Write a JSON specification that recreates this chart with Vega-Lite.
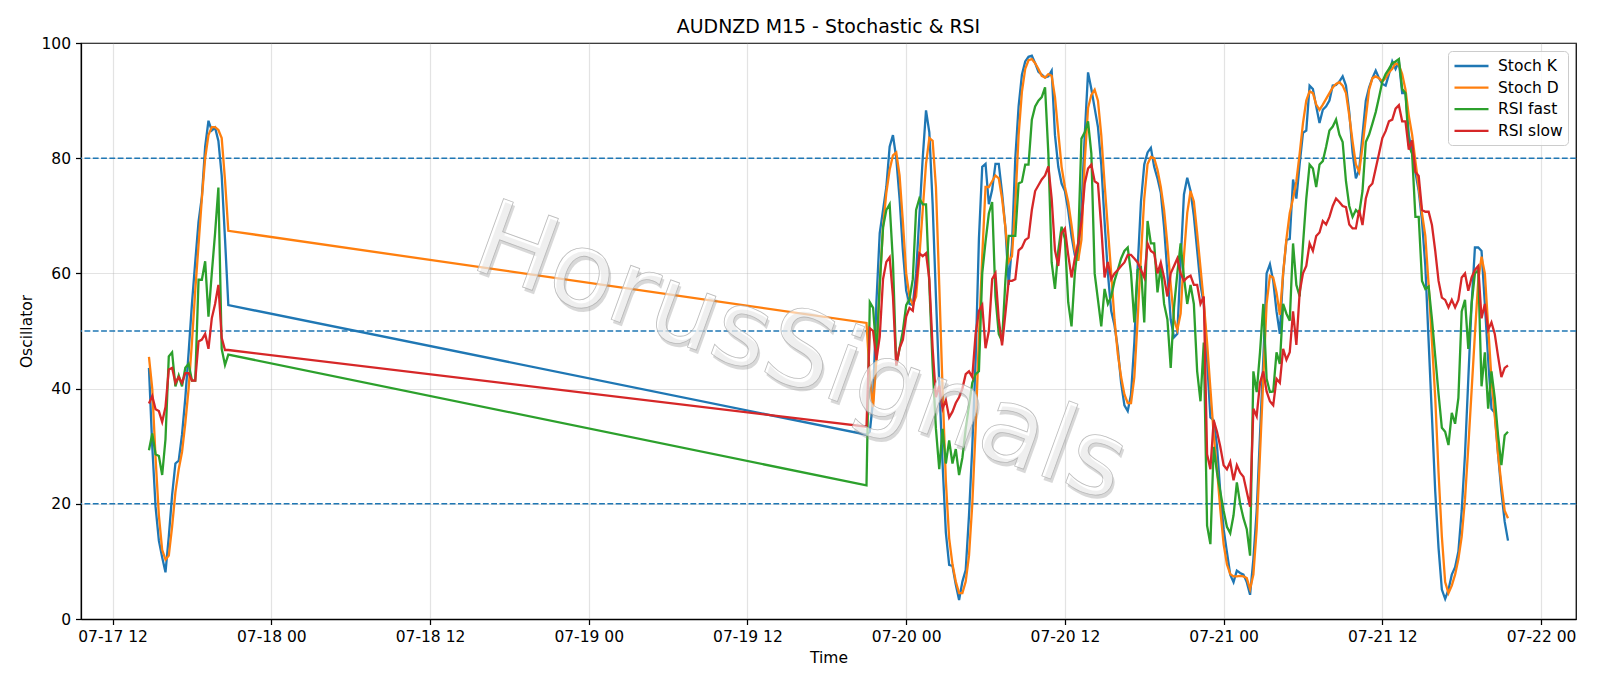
{
  "$schema": "https://vega.github.io/schema/vega-lite/v6.json",
  "width": 1495,
  "height": 576,
  "autosize": "none",
  "padding": {"left": 81, "top": 43, "right": 24, "bottom": 67},
  "background": "white",
  "title": {"text": "AUDNZD M15 - Stochastic & RSI", "font": "DejaVu Sans", "fontSize": 18.9, "fontWeight": "normal", "color": "black", "anchor": "middle", "baseline": "alphabetic", "offset": -16},
  "config": {
    "view": {"stroke": "black", "strokeWidth": 1.25},
    "axis": {"labelFont": "DejaVu Sans", "labelFontSize": 15.5, "labelColor": "black", "titleFont": "DejaVu Sans", "titleFontSize": 15.5, "titleFontWeight": "normal", "titleColor": "black", "domainColor": "black", "domainWidth": 1.25, "tickColor": "black", "tickWidth": 1.25, "tickSize": 5.5, "labelPadding": 5, "gridColor": "#b0b0b0", "gridOpacity": 0.35, "gridWidth": 1.2}
  },
  "layer": [
    {
      "data": {"values": [{"value": 20}, {"value": 50}, {"value": 80}]},
      "mark": {"type": "rule", "color": "#1f77b4", "strokeDash": [5.8, 2.5], "strokeWidth": 1.55},
      "encoding": {"y": {"field": "value", "type": "quantitative", "title": "Oscillator", "scale": {"domain": [0, 100], "nice": false}}}
    },
    {
      "data": {"values": [
        {"t": "2020-07-17T14:45", "Stoch K": 43.6, "Stoch D": 45.5, "RSI fast": 29.3, "RSI slow": 37.4},
        {"t": "2020-07-17T15:00", "Stoch K": 30, "Stoch D": 40, "RSI fast": 32.2, "RSI slow": 38.7},
        {"t": "2020-07-17T15:15", "Stoch K": 19.5, "Stoch D": 28, "RSI fast": 28.6, "RSI slow": 36.4},
        {"t": "2020-07-17T15:30", "Stoch K": 13.6, "Stoch D": 18, "RSI fast": 28.3, "RSI slow": 36.1},
        {"t": "2020-07-17T15:45", "Stoch K": 10.7, "Stoch D": 12, "RSI fast": 25, "RSI slow": 34.2},
        {"t": "2020-07-17T16:00", "Stoch K": 8.1, "Stoch D": 10.3, "RSI fast": 31.2, "RSI slow": 36.8},
        {"t": "2020-07-17T16:15", "Stoch K": 14.3, "Stoch D": 11, "RSI fast": 45.6, "RSI slow": 43.3},
        {"t": "2020-07-17T16:30", "Stoch K": 21.5, "Stoch D": 16, "RSI fast": 46.3, "RSI slow": 43.6},
        {"t": "2020-07-17T16:45", "Stoch K": 27, "Stoch D": 22, "RSI fast": 40.4, "RSI slow": 41},
        {"t": "2020-07-17T17:00", "Stoch K": 27.5, "Stoch D": 26, "RSI fast": 42.3, "RSI slow": 42},
        {"t": "2020-07-17T17:15", "Stoch K": 32, "Stoch D": 29, "RSI fast": 40.4, "RSI slow": 41},
        {"t": "2020-07-17T17:30", "Stoch K": 38.4, "Stoch D": 34, "RSI fast": 43.6, "RSI slow": 42.7},
        {"t": "2020-07-17T17:45", "Stoch K": 46.3, "Stoch D": 40, "RSI fast": 44.3, "RSI slow": 42.7},
        {"t": "2020-07-17T18:00", "Stoch K": 54.7, "Stoch D": 48, "RSI fast": 41.4, "RSI slow": 41.4},
        {"t": "2020-07-17T18:15", "Stoch K": 62, "Stoch D": 57, "RSI fast": 41.4, "RSI slow": 41.4},
        {"t": "2020-07-17T18:30", "Stoch K": 69, "Stoch D": 65, "RSI fast": 58.9, "RSI slow": 48.2},
        {"t": "2020-07-17T18:45", "Stoch K": 73.3, "Stoch D": 73, "RSI fast": 58.9, "RSI slow": 48.5},
        {"t": "2020-07-17T19:00", "Stoch K": 82, "Stoch D": 80, "RSI fast": 62.1, "RSI slow": 49.5},
        {"t": "2020-07-17T19:15", "Stoch K": 86.5, "Stoch D": 84, "RSI fast": 52.5, "RSI slow": 46.9},
        {"t": "2020-07-17T19:30", "Stoch K": 84.8, "Stoch D": 85.4, "RSI fast": 60, "RSI slow": 52.2},
        {"t": "2020-07-17T19:45", "Stoch K": 85.3, "Stoch D": 85.4, "RSI fast": 67, "RSI slow": 54.7},
        {"t": "2020-07-17T20:00", "Stoch K": 83, "Stoch D": 84.9, "RSI fast": 74.9, "RSI slow": 58},
        {"t": "2020-07-17T20:15", "Stoch K": 77, "Stoch D": 83.5, "RSI fast": 46.9, "RSI slow": 48.8},
        {"t": "2020-07-17T20:30", "Stoch K": 66, "Stoch D": 76.2, "RSI fast": 44.1, "RSI slow": 46.7},
        {"t": "2020-07-17T20:45", "Stoch K": 54.5, "Stoch D": 67.4, "RSI fast": 45.9, "RSI slow": 46.7},
        {"t": "2020-07-19T21:00", "Stoch K": 32, "Stoch D": 51.4, "RSI fast": 23.2, "RSI slow": 33.4},
        {"t": "2020-07-19T21:15", "Stoch K": 32.5, "Stoch D": 42, "RSI fast": 55, "RSI slow": 50.5},
        {"t": "2020-07-19T21:30", "Stoch K": 38, "Stoch D": 36.8, "RSI fast": 54, "RSI slow": 50},
        {"t": "2020-07-19T21:45", "Stoch K": 55, "Stoch D": 45, "RSI fast": 46, "RSI slow": 45},
        {"t": "2020-07-19T22:00", "Stoch K": 67, "Stoch D": 58, "RSI fast": 58, "RSI slow": 49},
        {"t": "2020-07-19T22:15", "Stoch K": 71, "Stoch D": 68, "RSI fast": 68, "RSI slow": 59},
        {"t": "2020-07-19T22:30", "Stoch K": 75, "Stoch D": 74, "RSI fast": 71, "RSI slow": 62},
        {"t": "2020-07-19T22:45", "Stoch K": 82, "Stoch D": 78, "RSI fast": 72, "RSI slow": 62.8},
        {"t": "2020-07-19T23:00", "Stoch K": 84, "Stoch D": 80.5, "RSI fast": 62, "RSI slow": 56},
        {"t": "2020-07-19T23:15", "Stoch K": 80, "Stoch D": 81, "RSI fast": 44, "RSI slow": 44},
        {"t": "2020-07-19T23:30", "Stoch K": 73, "Stoch D": 77, "RSI fast": 47, "RSI slow": 47},
        {"t": "2020-07-19T23:45", "Stoch K": 64, "Stoch D": 69, "RSI fast": 50, "RSI slow": 48.5},
        {"t": "2020-07-20T00:00", "Stoch K": 57, "Stoch D": 60, "RSI fast": 54.5, "RSI slow": 52.5},
        {"t": "2020-07-20T00:15", "Stoch K": 54.7, "Stoch D": 56, "RSI fast": 55.5, "RSI slow": 54},
        {"t": "2020-07-20T00:30", "Stoch K": 54.5, "Stoch D": 54.5, "RSI fast": 59, "RSI slow": 53.5},
        {"t": "2020-07-20T00:45", "Stoch K": 60, "Stoch D": 56, "RSI fast": 71, "RSI slow": 58},
        {"t": "2020-07-20T01:00", "Stoch K": 70, "Stoch D": 63, "RSI fast": 73, "RSI slow": 63.5},
        {"t": "2020-07-20T01:15", "Stoch K": 80, "Stoch D": 71, "RSI fast": 72, "RSI slow": 63},
        {"t": "2020-07-20T01:30", "Stoch K": 88.3, "Stoch D": 79, "RSI fast": 72, "RSI slow": 63.5},
        {"t": "2020-07-20T01:45", "Stoch K": 84.5, "Stoch D": 83.5, "RSI fast": 58, "RSI slow": 59},
        {"t": "2020-07-20T02:00", "Stoch K": 72, "Stoch D": 83, "RSI fast": 44, "RSI slow": 47},
        {"t": "2020-07-20T02:15", "Stoch K": 56, "Stoch D": 75, "RSI fast": 33, "RSI slow": 38.5},
        {"t": "2020-07-20T02:30", "Stoch K": 41, "Stoch D": 58, "RSI fast": 26, "RSI slow": 40.5},
        {"t": "2020-07-20T02:45", "Stoch K": 27, "Stoch D": 40, "RSI fast": 33, "RSI slow": 36.5},
        {"t": "2020-07-20T03:00", "Stoch K": 15, "Stoch D": 24, "RSI fast": 27, "RSI slow": 38},
        {"t": "2020-07-20T03:15", "Stoch K": 9.4, "Stoch D": 14, "RSI fast": 31, "RSI slow": 35},
        {"t": "2020-07-20T03:30", "Stoch K": 9.2, "Stoch D": 9.5, "RSI fast": 27, "RSI slow": 36},
        {"t": "2020-07-20T03:45", "Stoch K": 6, "Stoch D": 6.5, "RSI fast": 29.5, "RSI slow": 37.5},
        {"t": "2020-07-20T04:00", "Stoch K": 3.3, "Stoch D": 4.5, "RSI fast": 25, "RSI slow": 38.5},
        {"t": "2020-07-20T04:15", "Stoch K": 6.5, "Stoch D": 4.5, "RSI fast": 28, "RSI slow": 40},
        {"t": "2020-07-20T04:30", "Stoch K": 8.5, "Stoch D": 6.5, "RSI fast": 33, "RSI slow": 42.5},
        {"t": "2020-07-20T04:45", "Stoch K": 18, "Stoch D": 11, "RSI fast": 37, "RSI slow": 43},
        {"t": "2020-07-20T05:00", "Stoch K": 30, "Stoch D": 20, "RSI fast": 41, "RSI slow": 42},
        {"t": "2020-07-20T05:15", "Stoch K": 45, "Stoch D": 33, "RSI fast": 42.5, "RSI slow": 49.5},
        {"t": "2020-07-20T05:30", "Stoch K": 66, "Stoch D": 49, "RSI fast": 43, "RSI slow": 53.5},
        {"t": "2020-07-20T05:45", "Stoch K": 78.5, "Stoch D": 63, "RSI fast": 60, "RSI slow": 54.5},
        {"t": "2020-07-20T06:00", "Stoch K": 79, "Stoch D": 75, "RSI fast": 65.5, "RSI slow": 47},
        {"t": "2020-07-20T06:15", "Stoch K": 72, "Stoch D": 75, "RSI fast": 70.4, "RSI slow": 50},
        {"t": "2020-07-20T06:30", "Stoch K": 74.5, "Stoch D": 76, "RSI fast": 72.4, "RSI slow": 59},
        {"t": "2020-07-20T06:45", "Stoch K": 79, "Stoch D": 77, "RSI fast": 56, "RSI slow": 60},
        {"t": "2020-07-20T07:00", "Stoch K": 79, "Stoch D": 76.5, "RSI fast": 49.5, "RSI slow": 52},
        {"t": "2020-07-20T07:15", "Stoch K": 74, "Stoch D": 73, "RSI fast": 48.2, "RSI slow": 47.5},
        {"t": "2020-07-20T07:30", "Stoch K": 68, "Stoch D": 68, "RSI fast": 58.7, "RSI slow": 53},
        {"t": "2020-07-20T07:45", "Stoch K": 58, "Stoch D": 62, "RSI fast": 66.5, "RSI slow": 58.7},
        {"t": "2020-07-20T08:00", "Stoch K": 65, "Stoch D": 63, "RSI fast": 66.5, "RSI slow": 58.7},
        {"t": "2020-07-20T08:15", "Stoch K": 80, "Stoch D": 72, "RSI fast": 66.5, "RSI slow": 59},
        {"t": "2020-07-20T08:30", "Stoch K": 89, "Stoch D": 84, "RSI fast": 75.6, "RSI slow": 64},
        {"t": "2020-07-20T08:45", "Stoch K": 94.5, "Stoch D": 91.5, "RSI fast": 75.9, "RSI slow": 64.5},
        {"t": "2020-07-20T09:00", "Stoch K": 96.8, "Stoch D": 95.5, "RSI fast": 78.9, "RSI slow": 65.8},
        {"t": "2020-07-20T09:15", "Stoch K": 97.6, "Stoch D": 97, "RSI fast": 78.9, "RSI slow": 66.2},
        {"t": "2020-07-20T09:30", "Stoch K": 97.8, "Stoch D": 97.2, "RSI fast": 86.7, "RSI slow": 71},
        {"t": "2020-07-20T09:45", "Stoch K": 96.5, "Stoch D": 96.5, "RSI fast": 89, "RSI slow": 74.3},
        {"t": "2020-07-20T10:00", "Stoch K": 95, "Stoch D": 95.5, "RSI fast": 90, "RSI slow": 75.3},
        {"t": "2020-07-20T10:15", "Stoch K": 94.5, "Stoch D": 94.3, "RSI fast": 90.6, "RSI slow": 76.3},
        {"t": "2020-07-20T10:30", "Stoch K": 94, "Stoch D": 94, "RSI fast": 92.3, "RSI slow": 77},
        {"t": "2020-07-20T10:45", "Stoch K": 94.2, "Stoch D": 94.6, "RSI fast": 80.8, "RSI slow": 78.6},
        {"t": "2020-07-20T11:00", "Stoch K": 95.2, "Stoch D": 94.3, "RSI fast": 61.9, "RSI slow": 73},
        {"t": "2020-07-20T11:15", "Stoch K": 84, "Stoch D": 90.6, "RSI fast": 57.3, "RSI slow": 64},
        {"t": "2020-07-20T11:30", "Stoch K": 78.5, "Stoch D": 84.5, "RSI fast": 64, "RSI slow": 61.3},
        {"t": "2020-07-20T11:45", "Stoch K": 75.6, "Stoch D": 78.5, "RSI fast": 68.1, "RSI slow": 67},
        {"t": "2020-07-20T12:00", "Stoch K": 74.3, "Stoch D": 75, "RSI fast": 66, "RSI slow": 67.8},
        {"t": "2020-07-20T12:15", "Stoch K": 71, "Stoch D": 72.4, "RSI fast": 55, "RSI slow": 63.2},
        {"t": "2020-07-20T12:30", "Stoch K": 66.5, "Stoch D": 68.4, "RSI fast": 50.8, "RSI slow": 59.3},
        {"t": "2020-07-20T12:45", "Stoch K": 63.2, "Stoch D": 64, "RSI fast": 60, "RSI slow": 62.6},
        {"t": "2020-07-20T13:00", "Stoch K": 62.6, "Stoch D": 62.2, "RSI fast": 65.2, "RSI slow": 65.2},
        {"t": "2020-07-20T13:15", "Stoch K": 71, "Stoch D": 65.8, "RSI fast": 83.4, "RSI slow": 69},
        {"t": "2020-07-20T13:30", "Stoch K": 84, "Stoch D": 79.5, "RSI fast": 84.5, "RSI slow": 75.6},
        {"t": "2020-07-20T13:45", "Stoch K": 94.9, "Stoch D": 88.7, "RSI fast": 86.4, "RSI slow": 78.2},
        {"t": "2020-07-20T14:00", "Stoch K": 92, "Stoch D": 91, "RSI fast": 80.8, "RSI slow": 78.9},
        {"t": "2020-07-20T14:15", "Stoch K": 88.7, "Stoch D": 91.9, "RSI fast": 60, "RSI slow": 76},
        {"t": "2020-07-20T14:30", "Stoch K": 85.4, "Stoch D": 90, "RSI fast": 55.4, "RSI slow": 75.6},
        {"t": "2020-07-20T14:45", "Stoch K": 78.9, "Stoch D": 84, "RSI fast": 50.8, "RSI slow": 68},
        {"t": "2020-07-20T15:00", "Stoch K": 69, "Stoch D": 75.6, "RSI fast": 57.3, "RSI slow": 59.3},
        {"t": "2020-07-20T15:15", "Stoch K": 60, "Stoch D": 67.8, "RSI fast": 54.7, "RSI slow": 62},
        {"t": "2020-07-20T15:30", "Stoch K": 53.5, "Stoch D": 60, "RSI fast": 56, "RSI slow": 59},
        {"t": "2020-07-20T15:45", "Stoch K": 51, "Stoch D": 52, "RSI fast": 58.7, "RSI slow": 60},
        {"t": "2020-07-20T16:00", "Stoch K": 47, "Stoch D": 46, "RSI fast": 60.6, "RSI slow": 60.6},
        {"t": "2020-07-20T16:15", "Stoch K": 41, "Stoch D": 42, "RSI fast": 62.6, "RSI slow": 61.3},
        {"t": "2020-07-20T16:30", "Stoch K": 37.1, "Stoch D": 39, "RSI fast": 63.9, "RSI slow": 61.9},
        {"t": "2020-07-20T16:45", "Stoch K": 36.1, "Stoch D": 37.5, "RSI fast": 64.5, "RSI slow": 63.2},
        {"t": "2020-07-20T17:00", "Stoch K": 39, "Stoch D": 37.5, "RSI fast": 60, "RSI slow": 63.2},
        {"t": "2020-07-20T17:15", "Stoch K": 48, "Stoch D": 42, "RSI fast": 51.5, "RSI slow": 62.6},
        {"t": "2020-07-20T17:30", "Stoch K": 61, "Stoch D": 52, "RSI fast": 60.6, "RSI slow": 61.9},
        {"t": "2020-07-20T17:45", "Stoch K": 72.4, "Stoch D": 63, "RSI fast": 61, "RSI slow": 60.6},
        {"t": "2020-07-20T18:00", "Stoch K": 78.9, "Stoch D": 73, "RSI fast": 51.5, "RSI slow": 59.3},
        {"t": "2020-07-20T18:15", "Stoch K": 81, "Stoch D": 79, "RSI fast": 69.1, "RSI slow": 65.2},
        {"t": "2020-07-20T18:30", "Stoch K": 81.8, "Stoch D": 80.2, "RSI fast": 65.2, "RSI slow": 63.9},
        {"t": "2020-07-20T18:45", "Stoch K": 78.5, "Stoch D": 80, "RSI fast": 65.2, "RSI slow": 63.5},
        {"t": "2020-07-20T19:00", "Stoch K": 76.5, "Stoch D": 78, "RSI fast": 56.7, "RSI slow": 60},
        {"t": "2020-07-20T19:15", "Stoch K": 74, "Stoch D": 75, "RSI fast": 61.3, "RSI slow": 61.9},
        {"t": "2020-07-20T19:30", "Stoch K": 68, "Stoch D": 71, "RSI fast": 54.7, "RSI slow": 59.3},
        {"t": "2020-07-20T19:45", "Stoch K": 60, "Stoch D": 65, "RSI fast": 52, "RSI slow": 56},
        {"t": "2020-07-20T20:00", "Stoch K": 52, "Stoch D": 58, "RSI fast": 43.6, "RSI slow": 60},
        {"t": "2020-07-20T20:15", "Stoch K": 48.9, "Stoch D": 52, "RSI fast": 54.1, "RSI slow": 61.3},
        {"t": "2020-07-20T20:30", "Stoch K": 49.5, "Stoch D": 50.2, "RSI fast": 60, "RSI slow": 62.6},
        {"t": "2020-07-20T20:45", "Stoch K": 62, "Stoch D": 53, "RSI fast": 65.2, "RSI slow": 60},
        {"t": "2020-07-20T21:00", "Stoch K": 73.7, "Stoch D": 63, "RSI fast": 59.3, "RSI slow": 58.7},
        {"t": "2020-07-20T21:15", "Stoch K": 76.6, "Stoch D": 70.5, "RSI fast": 54.7, "RSI slow": 59.3},
        {"t": "2020-07-20T21:30", "Stoch K": 74.3, "Stoch D": 74.3, "RSI fast": 58, "RSI slow": 59.6},
        {"t": "2020-07-20T21:45", "Stoch K": 70, "Stoch D": 72.5, "RSI fast": 54.7, "RSI slow": 58},
        {"t": "2020-07-20T22:00", "Stoch K": 64, "Stoch D": 67, "RSI fast": 43, "RSI slow": 58},
        {"t": "2020-07-20T22:15", "Stoch K": 58, "Stoch D": 61, "RSI fast": 37.8, "RSI slow": 54.7},
        {"t": "2020-07-20T22:30", "Stoch K": 54.7, "Stoch D": 55, "RSI fast": 48, "RSI slow": 56},
        {"t": "2020-07-20T22:45", "Stoch K": 45, "Stoch D": 48, "RSI fast": 16.2, "RSI slow": 28.6},
        {"t": "2020-07-20T23:00", "Stoch K": 35, "Stoch D": 40, "RSI fast": 13, "RSI slow": 26},
        {"t": "2020-07-20T23:15", "Stoch K": 34.5, "Stoch D": 32, "RSI fast": 29.9, "RSI slow": 34.5},
        {"t": "2020-07-20T23:30", "Stoch K": 30, "Stoch D": 26, "RSI fast": 25.4, "RSI slow": 32.5},
        {"t": "2020-07-20T23:45", "Stoch K": 22, "Stoch D": 19, "RSI fast": 22.1, "RSI slow": 29.9},
        {"t": "2020-07-21T00:00", "Stoch K": 15.6, "Stoch D": 13, "RSI fast": 18.8, "RSI slow": 26.7},
        {"t": "2020-07-21T00:15", "Stoch K": 11.6, "Stoch D": 9.5, "RSI fast": 16, "RSI slow": 26},
        {"t": "2020-07-21T00:30", "Stoch K": 7.7, "Stoch D": 7.8, "RSI fast": 14.9, "RSI slow": 27.3},
        {"t": "2020-07-21T00:45", "Stoch K": 6.4, "Stoch D": 7.4, "RSI fast": 18, "RSI slow": 24.1},
        {"t": "2020-07-21T01:00", "Stoch K": 8.4, "Stoch D": 7.4, "RSI fast": 23.7, "RSI slow": 26.7},
        {"t": "2020-07-21T01:15", "Stoch K": 8, "Stoch D": 7.5, "RSI fast": 20, "RSI slow": 25.4},
        {"t": "2020-07-21T01:30", "Stoch K": 7.7, "Stoch D": 7.4, "RSI fast": 17.5, "RSI slow": 24.7},
        {"t": "2020-07-21T01:45", "Stoch K": 6.4, "Stoch D": 7.1, "RSI fast": 15.6, "RSI slow": 22.1},
        {"t": "2020-07-21T02:00", "Stoch K": 4.2, "Stoch D": 5.2, "RSI fast": 11, "RSI slow": 19.5},
        {"t": "2020-07-21T02:15", "Stoch K": 10.4, "Stoch D": 7.7, "RSI fast": 43, "RSI slow": 36.5},
        {"t": "2020-07-21T02:30", "Stoch K": 18.8, "Stoch D": 15.6, "RSI fast": 39.4, "RSI slow": 35.2},
        {"t": "2020-07-21T02:45", "Stoch K": 31.9, "Stoch D": 28.6, "RSI fast": 46.3, "RSI slow": 41},
        {"t": "2020-07-21T03:00", "Stoch K": 45, "Stoch D": 41.7, "RSI fast": 54.7, "RSI slow": 43},
        {"t": "2020-07-21T03:15", "Stoch K": 60, "Stoch D": 54.7, "RSI fast": 41.7, "RSI slow": 39.5},
        {"t": "2020-07-21T03:30", "Stoch K": 61.6, "Stoch D": 59.6, "RSI fast": 39.4, "RSI slow": 37.8},
        {"t": "2020-07-21T03:45", "Stoch K": 58.7, "Stoch D": 59.3, "RSI fast": 39.5, "RSI slow": 37.1},
        {"t": "2020-07-21T04:00", "Stoch K": 53.4, "Stoch D": 56.7, "RSI fast": 46.3, "RSI slow": 41.7},
        {"t": "2020-07-21T04:15", "Stoch K": 49.5, "Stoch D": 52.8, "RSI fast": 44.3, "RSI slow": 41},
        {"t": "2020-07-21T04:30", "Stoch K": 60, "Stoch D": 60, "RSI fast": 54.7, "RSI slow": 46.9},
        {"t": "2020-07-21T04:45", "Stoch K": 65.8, "Stoch D": 66, "RSI fast": 53, "RSI slow": 45},
        {"t": "2020-07-21T05:00", "Stoch K": 66, "Stoch D": 70.5, "RSI fast": 51.8, "RSI slow": 46.3},
        {"t": "2020-07-21T05:15", "Stoch K": 76.3, "Stoch D": 73, "RSI fast": 65.2, "RSI slow": 53.4},
        {"t": "2020-07-21T05:30", "Stoch K": 73, "Stoch D": 76, "RSI fast": 58, "RSI slow": 47.6},
        {"t": "2020-07-21T05:45", "Stoch K": 79, "Stoch D": 80.8, "RSI fast": 56, "RSI slow": 56.7},
        {"t": "2020-07-21T06:00", "Stoch K": 84.4, "Stoch D": 86.1, "RSI fast": 65, "RSI slow": 60},
        {"t": "2020-07-21T06:15", "Stoch K": 84.8, "Stoch D": 90, "RSI fast": 73, "RSI slow": 61.3},
        {"t": "2020-07-21T06:30", "Stoch K": 92.6, "Stoch D": 91.6, "RSI fast": 78.9, "RSI slow": 65.2},
        {"t": "2020-07-21T06:45", "Stoch K": 92, "Stoch D": 91.3, "RSI fast": 78.2, "RSI slow": 63.9},
        {"t": "2020-07-21T07:00", "Stoch K": 89, "Stoch D": 89.3, "RSI fast": 75, "RSI slow": 66.5},
        {"t": "2020-07-21T07:15", "Stoch K": 86.1, "Stoch D": 88.4, "RSI fast": 78.9, "RSI slow": 67.1},
        {"t": "2020-07-21T07:30", "Stoch K": 88.4, "Stoch D": 89.3, "RSI fast": 79.5, "RSI slow": 69.1},
        {"t": "2020-07-21T07:45", "Stoch K": 89, "Stoch D": 90.3, "RSI fast": 82, "RSI slow": 68.5},
        {"t": "2020-07-21T08:00", "Stoch K": 90, "Stoch D": 91.3, "RSI fast": 84.8, "RSI slow": 69.8},
        {"t": "2020-07-21T08:15", "Stoch K": 92.6, "Stoch D": 92.3, "RSI fast": 85.5, "RSI slow": 71.7},
        {"t": "2020-07-21T08:30", "Stoch K": 92.7, "Stoch D": 92.9, "RSI fast": 86.7, "RSI slow": 73},
        {"t": "2020-07-21T08:45", "Stoch K": 93.3, "Stoch D": 93.2, "RSI fast": 84.1, "RSI slow": 72.4},
        {"t": "2020-07-21T09:00", "Stoch K": 94.2, "Stoch D": 92.6, "RSI fast": 82.8, "RSI slow": 71.7},
        {"t": "2020-07-21T09:15", "Stoch K": 92.6, "Stoch D": 91.3, "RSI fast": 76, "RSI slow": 71.5},
        {"t": "2020-07-21T09:30", "Stoch K": 88, "Stoch D": 87.4, "RSI fast": 71.7, "RSI slow": 68.5},
        {"t": "2020-07-21T09:45", "Stoch K": 81, "Stoch D": 82.9, "RSI fast": 69.8, "RSI slow": 67.8},
        {"t": "2020-07-21T10:00", "Stoch K": 76.5, "Stoch D": 78.9, "RSI fast": 71, "RSI slow": 67.8},
        {"t": "2020-07-21T10:15", "Stoch K": 78, "Stoch D": 77.6, "RSI fast": 70.4, "RSI slow": 71},
        {"t": "2020-07-21T10:30", "Stoch K": 84, "Stoch D": 82, "RSI fast": 74.3, "RSI slow": 68.4},
        {"t": "2020-07-21T10:45", "Stoch K": 90, "Stoch D": 87, "RSI fast": 82.8, "RSI slow": 73},
        {"t": "2020-07-21T11:00", "Stoch K": 92.3, "Stoch D": 91.9, "RSI fast": 84.1, "RSI slow": 75},
        {"t": "2020-07-21T11:15", "Stoch K": 93.9, "Stoch D": 93.9, "RSI fast": 86, "RSI slow": 75.6},
        {"t": "2020-07-21T11:30", "Stoch K": 95.2, "Stoch D": 94.2, "RSI fast": 88, "RSI slow": 78.2},
        {"t": "2020-07-21T11:45", "Stoch K": 93.9, "Stoch D": 93.9, "RSI fast": 90.6, "RSI slow": 80.8},
        {"t": "2020-07-21T12:00", "Stoch K": 92.9, "Stoch D": 93.3, "RSI fast": 93.3, "RSI slow": 83.5},
        {"t": "2020-07-21T12:15", "Stoch K": 92.6, "Stoch D": 93.9, "RSI fast": 94.6, "RSI slow": 84.7},
        {"t": "2020-07-21T12:30", "Stoch K": 94.6, "Stoch D": 94.9, "RSI fast": 95.5, "RSI slow": 86.4},
        {"t": "2020-07-21T12:45", "Stoch K": 96.8, "Stoch D": 95.5, "RSI fast": 96.5, "RSI slow": 86.7},
        {"t": "2020-07-21T13:00", "Stoch K": 95.5, "Stoch D": 96.5, "RSI fast": 96.8, "RSI slow": 88.6},
        {"t": "2020-07-21T13:15", "Stoch K": 96.8, "Stoch D": 96.2, "RSI fast": 97.2, "RSI slow": 89.2},
        {"t": "2020-07-21T13:30", "Stoch K": 91.3, "Stoch D": 94.6, "RSI fast": 92, "RSI slow": 86.4},
        {"t": "2020-07-21T13:45", "Stoch K": 91.3, "Stoch D": 91.9, "RSI fast": 91.3, "RSI slow": 86.4},
        {"t": "2020-07-21T14:00", "Stoch K": 84.1, "Stoch D": 87.4, "RSI fast": 82.2, "RSI slow": 81.5},
        {"t": "2020-07-21T14:15", "Stoch K": 80.8, "Stoch D": 84.1, "RSI fast": 80.8, "RSI slow": 83.1},
        {"t": "2020-07-21T14:30", "Stoch K": 77.6, "Stoch D": 79.5, "RSI fast": 69.8, "RSI slow": 77.6},
        {"t": "2020-07-21T14:45", "Stoch K": 74.3, "Stoch D": 75, "RSI fast": 69.8, "RSI slow": 76.9},
        {"t": "2020-07-21T15:00", "Stoch K": 69.1, "Stoch D": 70.4, "RSI fast": 58.7, "RSI slow": 71},
        {"t": "2020-07-21T15:15", "Stoch K": 61.3, "Stoch D": 66.5, "RSI fast": 57.3, "RSI slow": 70.7},
        {"t": "2020-07-21T15:30", "Stoch K": 48.2, "Stoch D": 58, "RSI fast": 57.7, "RSI slow": 70.7},
        {"t": "2020-07-21T15:45", "Stoch K": 35.2, "Stoch D": 48.2, "RSI fast": 52.1, "RSI slow": 68.4},
        {"t": "2020-07-21T16:00", "Stoch K": 22.1, "Stoch D": 38.4, "RSI fast": 45.6, "RSI slow": 63.9},
        {"t": "2020-07-21T16:15", "Stoch K": 12.3, "Stoch D": 25.4, "RSI fast": 39.1, "RSI slow": 58.7},
        {"t": "2020-07-21T16:30", "Stoch K": 5.1, "Stoch D": 14.3, "RSI fast": 33.2, "RSI slow": 55.8},
        {"t": "2020-07-21T16:45", "Stoch K": 3.5, "Stoch D": 6.4, "RSI fast": 32.5, "RSI slow": 55.4},
        {"t": "2020-07-21T17:00", "Stoch K": 5.1, "Stoch D": 4.5, "RSI fast": 30.2, "RSI slow": 54.1},
        {"t": "2020-07-21T17:15", "Stoch K": 7.7, "Stoch D": 5.8, "RSI fast": 35.8, "RSI slow": 55.4},
        {"t": "2020-07-21T17:30", "Stoch K": 9, "Stoch D": 7.7, "RSI fast": 33.9, "RSI slow": 54.1},
        {"t": "2020-07-21T17:45", "Stoch K": 11.7, "Stoch D": 10.4, "RSI fast": 38.4, "RSI slow": 55.4},
        {"t": "2020-07-21T18:00", "Stoch K": 18.8, "Stoch D": 14.3, "RSI fast": 53.4, "RSI slow": 59.3},
        {"t": "2020-07-21T18:15", "Stoch K": 28.6, "Stoch D": 20.8, "RSI fast": 55.4, "RSI slow": 60},
        {"t": "2020-07-21T18:30", "Stoch K": 41.7, "Stoch D": 29.9, "RSI fast": 46.9, "RSI slow": 57},
        {"t": "2020-07-21T18:45", "Stoch K": 54.7, "Stoch D": 39.7, "RSI fast": 54.7, "RSI slow": 59.3},
        {"t": "2020-07-21T19:00", "Stoch K": 64.5, "Stoch D": 49.5, "RSI fast": 60, "RSI slow": 60.6},
        {"t": "2020-07-21T19:15", "Stoch K": 64.5, "Stoch D": 58.7, "RSI fast": 60.6, "RSI slow": 61.3},
        {"t": "2020-07-21T19:30", "Stoch K": 63.9, "Stoch D": 62.9, "RSI fast": 40.4, "RSI slow": 52.2},
        {"t": "2020-07-21T19:45", "Stoch K": 54.7, "Stoch D": 60, "RSI fast": 46.3, "RSI slow": 54.7},
        {"t": "2020-07-21T20:00", "Stoch K": 45, "Stoch D": 50.8, "RSI fast": 36.5, "RSI slow": 50.2},
        {"t": "2020-07-21T20:15", "Stoch K": 36.5, "Stoch D": 41.7, "RSI fast": 43, "RSI slow": 51.5},
        {"t": "2020-07-21T20:30", "Stoch K": 35.8, "Stoch D": 35.2, "RSI fast": 38.4, "RSI slow": 49.5},
        {"t": "2020-07-21T20:45", "Stoch K": 28.6, "Stoch D": 28.6, "RSI fast": 31.9, "RSI slow": 45.6},
        {"t": "2020-07-21T21:00", "Stoch K": 22.1, "Stoch D": 23.4, "RSI fast": 26.7, "RSI slow": 42},
        {"t": "2020-07-21T21:15", "Stoch K": 16.9, "Stoch D": 18.8, "RSI fast": 31.9, "RSI slow": 43.6},
        {"t": "2020-07-21T21:30", "Stoch K": 13.6, "Stoch D": 17.5, "RSI fast": 32.5, "RSI slow": 44}
      ]},
      "transform": [{"fold": ["Stoch K", "Stoch D", "RSI fast", "RSI slow"], "as": ["series", "value"]}],
      "mark": {"type": "line", "strokeWidth": 2.3},
      "encoding": {
        "x": {"field": "t", "type": "temporal", "title": "Time",
          "scale": {"domain": [{"year": 2020, "month": 7, "date": 17, "hours": 9, "minutes": 36, "seconds": 45}, {"year": 2020, "month": 7, "date": 22, "hours": 2, "minutes": 38, "seconds": 30}]},
          "axis": {"format": "%m-%d %H", "grid": true, "labelFlush": false, "labelOverlap": false, "titlePadding": 5,
            "values": [
              {"year": 2020, "month": 7, "date": 17, "hours": 12},
              {"year": 2020, "month": 7, "date": 18, "hours": 0},
              {"year": 2020, "month": 7, "date": 18, "hours": 12},
              {"year": 2020, "month": 7, "date": 19, "hours": 0},
              {"year": 2020, "month": 7, "date": 19, "hours": 12},
              {"year": 2020, "month": 7, "date": 20, "hours": 0},
              {"year": 2020, "month": 7, "date": 20, "hours": 12},
              {"year": 2020, "month": 7, "date": 21, "hours": 0},
              {"year": 2020, "month": 7, "date": 21, "hours": 12},
              {"year": 2020, "month": 7, "date": 22, "hours": 0}
            ]}},
        "y": {"field": "value", "type": "quantitative", "title": "Oscillator",
          "scale": {"domain": [0, 100], "nice": false},
          "axis": {"values": [0, 20, 40, 60, 80, 100], "grid": true, "titlePadding": 6}},
        "color": {"field": "series", "type": "nominal",
          "scale": {"domain": ["Stoch K", "Stoch D", "RSI fast", "RSI slow"], "range": ["#1f77b4", "#ff7f0e", "#2ca02c", "#d62728"]},
          "legend": {"title": null, "orient": "top-right", "offset": 8, "symbolType": "M-2,0H2", "symbolSize": 289, "symbolOffset": 8.5, "symbolStrokeWidth": 2.3, "labelOffset": 16.5, "padding": 5, "rowPadding": 2.6, "fillColor": "rgba(255,255,255,0.8)", "strokeColor": "#cccccc", "cornerRadius": 4, "labelFont": "DejaVu Sans", "labelFontSize": 15.5, "labelColor": "black"}}
      }
    },
    {
      "data": {"values": [{"label": "HorusSignals"}]},
      "mark": {"type": "text", "font": "DejaVu Sans", "fontSize": 105, "angle": 20, "align": "center", "baseline": "middle", "fill": "#8c8c8c", "opacity": 0.33, "dx": 3, "dy": 3},
      "encoding": {
        "x": {"datum": {"year": 2020, "month": 7, "date": 19, "hours": 16}, "type": "temporal"},
        "y": {"datum": 46, "type": "quantitative"},
        "text": {"field": "label"}
      }
    },
    {
      "data": {"values": [{"label": "HorusSignals"}]},
      "mark": {"type": "text", "font": "DejaVu Sans", "fontSize": 105, "angle": 20, "align": "center", "baseline": "middle", "fill": "white", "fillOpacity": 0.6, "stroke": "#b0b0b0", "strokeWidth": 0.8, "strokeOpacity": 0.85},
      "encoding": {
        "x": {"datum": {"year": 2020, "month": 7, "date": 19, "hours": 16}, "type": "temporal"},
        "y": {"datum": 46, "type": "quantitative"},
        "text": {"field": "label"}
      }
    }
  ]
}
